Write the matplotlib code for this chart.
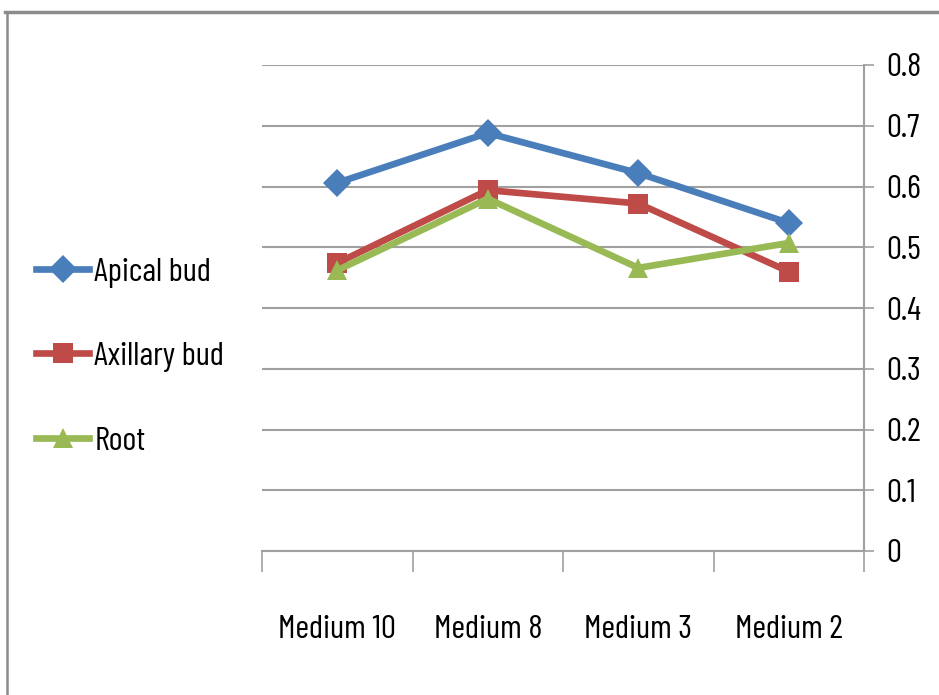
import matplotlib
matplotlib.use("Agg")
import matplotlib.pyplot as plt
from matplotlib.lines import Line2D

categories = ["Medium 10", "Medium 8", "Medium 3", "Medium 2"]
apical_bud = [0.606, 0.688, 0.622, 0.540]
axillary_bud = [0.474, 0.594, 0.572, 0.460]
root = [0.462, 0.580, 0.466, 0.507]
y_ticks = [0, 0.1, 0.2, 0.3, 0.4, 0.5, 0.6, 0.7, 0.8]
y_tick_labels = ["0", "0.1", "0.2", "0.3", "0.4", "0.5", "0.6", "0.7", "0.8"]

plt.rcParams['font.family'] = ['Barlow Condensed', 'DejaVu Sans']
FS = 24

fig = plt.figure(figsize=(9.39, 6.95), dpi=100)
ax = fig.add_axes([262/939, 1-551/695, (864-262)/939, (551-65)/695])

x = list(range(len(categories)))
series = [
    ("Apical bud", apical_bud, "#4A7EBB", "D", 14),
    ("Axillary bud", axillary_bud, "#BE4B48", "s", 14),
    ("Root", root, "#98B954", "^", 15),
]
handles = []
for name, vals, col, mk, ms in series:
    ln, = ax.plot(x, vals, color=col, lw=4.8, marker=mk, markersize=ms,
                  markeredgewidth=0, label=name, solid_joinstyle="miter")
    handles.append(ln)

ax.set_xlim(-0.5, 3.5)
ax.set_ylim(0, 0.8)
ax.yaxis.tick_right()
ax.set_yticks(y_ticks)
ax.set_yticklabels(y_tick_labels, fontsize=FS)
ax.tick_params(axis="y", which="major", direction="out", length=7, width=1.2,
               color="#A0A0A0", pad=9, labelcolor="black")
ax.grid(axis="y", color="#A0A0A0", lw=1.5, zorder=0)
ax.set_axisbelow(True)

ax.set_xticks([-0.5, 0.5, 1.5, 2.5, 3.5])
ax.set_xticklabels([])
ax.tick_params(axis="x", which="major", direction="out", length=15, width=1.2,
               color="#A0A0A0")
ax.set_xticks(x, minor=True)
ax.set_xticklabels(categories, minor=True, fontsize=FS)
ax.tick_params(axis="x", which="minor", length=0, pad=46)

for s in ["top", "left"]:
    ax.spines[s].set_visible(False)
for s in ["right", "bottom"]:
    ax.spines[s].set_color("#A0A0A0")
    ax.spines[s].set_linewidth(1.5)

fig.legend(handles=handles, loc="center left", bbox_to_anchor=(36/939, 1-357/695),
           frameon=False, fontsize=FS, handlelength=1.6, handletextpad=0.15,
           labelspacing=1.62, borderaxespad=0, borderpad=0)

# outer frame lines
fig.add_artist(Line2D([5/939, 1], [1-12/695, 1-12/695], color="#8C8C8C", lw=2.5,
                      transform=fig.transFigure))
fig.add_artist(Line2D([7/939, 7/939], [0, 1-12/695], color="#8C8C8C", lw=1.8,
                      transform=fig.transFigure))

fig.savefig("out.png", dpi=100)
